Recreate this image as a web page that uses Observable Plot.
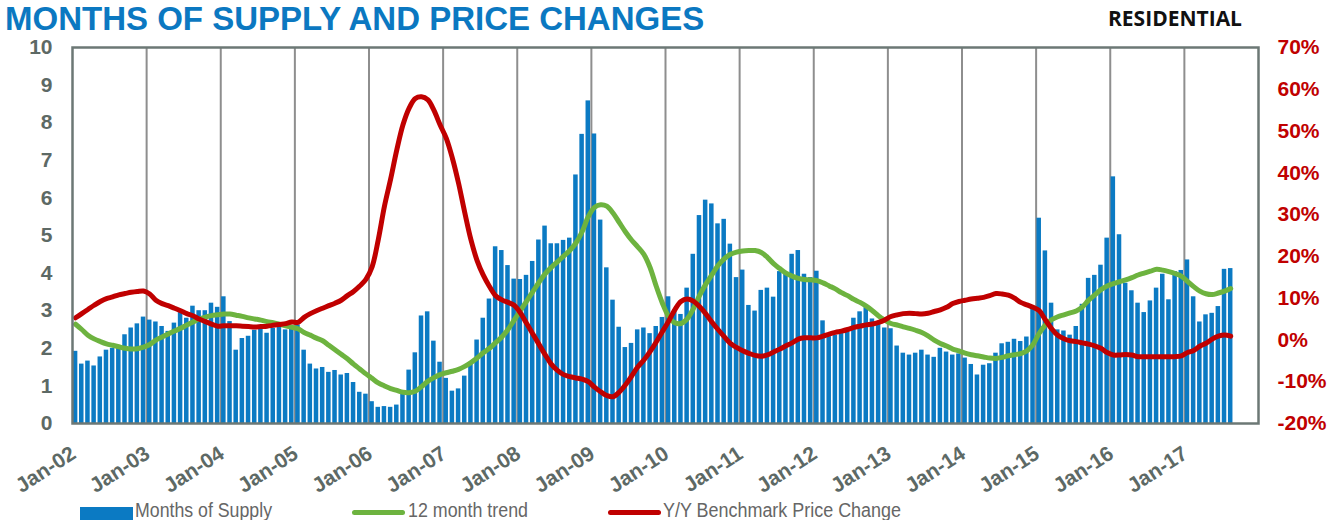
<!DOCTYPE html>
<html><head><meta charset="utf-8">
<script src="https://cdn.jsdelivr.net/npm/d3@7"></script>
<script src="https://cdn.jsdelivr.net/npm/@observablehq/plot@0.6"></script>
<style>
body{margin:0;background:#fff;width:1340px;height:520px;overflow:hidden;position:relative;font-family:"Liberation Sans",Arial,sans-serif}
#title{position:absolute;left:5px;top:0px;font-size:33px;line-height:normal;font-weight:bold;color:#0b78c1;white-space:nowrap}
#sub{position:absolute;left:1108px;top:6px;font-family:"Open Sans",sans-serif;font-weight:700;font-size:21px;line-height:24px;color:#111;white-space:nowrap}
#chart{position:absolute;left:0;top:0}
.lg{position:absolute;top:500px;font-size:20px;line-height:20px;color:#666;white-space:nowrap;transform-origin:0 50%}
.sw{position:absolute}
</style></head>
<body>
<div id="chart"></div>
<div id="title">MONTHS OF SUPPLY AND PRICE CHANGES</div>
<div id="sub">RESIDENTIAL</div>
<div id="legend"></div>
<script>
// ---- data ----
const monthNames = ["Jan","Feb","Mar","Apr","May","Jun","Jul","Aug","Sep","Oct","Nov","Dec"];
const years = ["02","03","04","05","06","07","08","09","10","11","12","13","14","15","16","17"];
const yearTicks = years.map(y => "Jan-" + y);
const leftTicks = [0,1,2,3,4,5,6,7,8,9,10];
const rightTicks = [-20,-10,0,10,20,30,40,50,60,70];
const legendLabels = ["Months of Supply", "12 month trend", "Y/Y Benchmark Price Change"];

const supply = [
1.92,1.58,1.66,1.53,1.77,1.95,2.0,2.05,2.36,2.54,2.65,2.83,
2.75,2.7,2.58,2.45,2.67,2.95,2.8,3.12,3.0,3.0,3.2,3.09,
3.37,2.71,1.95,2.26,2.32,2.48,2.5,2.4,2.53,2.59,2.49,2.57,
2.62,1.95,1.58,1.45,1.49,1.36,1.41,1.29,1.33,1.09,0.83,0.78,
0.58,0.43,0.45,0.43,0.49,0.78,1.42,1.88,2.86,2.97,2.19,1.63,
1.2,0.86,0.92,1.26,1.6,2.22,2.8,3.31,4.7,4.6,4.2,3.84,
3.83,3.94,4.31,4.88,5.25,4.78,4.78,4.87,4.93,6.61,7.69,8.58,
7.7,5.41,4.14,3.28,2.56,2.02,2.13,2.49,2.54,2.39,2.58,2.82,
3.37,3.02,2.9,3.6,4.5,5.53,5.94,5.84,5.31,5.43,4.77,3.88,
4.08,3.14,2.99,3.54,3.6,3.36,4.04,3.99,4.5,4.6,3.97,3.88,
4.05,2.73,2.31,2.35,2.42,2.44,2.8,2.97,3.08,2.78,2.66,2.54,
2.52,2.06,1.87,1.82,1.87,1.95,1.82,1.76,2.0,1.9,1.82,1.85,
1.74,1.57,1.29,1.55,1.59,1.87,2.12,2.16,2.24,2.18,2.3,3.08,
5.46,4.59,3.2,2.49,2.46,2.35,2.58,3.17,3.86,3.94,4.21,4.93,
6.56,5.02,3.73,3.53,3.2,2.95,3.26,3.6,3.97,3.29,4.04,4.07,
4.35,3.37,2.7,2.89,2.93,3.11,4.1,4.12];

const trend = [
2.64,2.5,2.35,2.25,2.18,2.12,2.08,2.04,2.0,1.98,1.99,2.03,
2.1,2.22,2.3,2.38,2.46,2.53,2.62,2.7,2.78,2.83,2.87,2.89,
2.91,2.91,2.88,2.85,2.81,2.78,2.75,2.71,2.68,2.64,2.6,2.56,
2.52,2.42,2.35,2.27,2.2,2.08,1.96,1.84,1.72,1.58,1.45,1.32,
1.2,1.08,1.0,0.93,0.88,0.83,0.82,0.86,0.98,1.12,1.22,1.3,
1.35,1.39,1.44,1.52,1.62,1.74,1.88,2.0,2.15,2.3,2.5,2.75,
3.0,3.25,3.5,3.75,3.98,4.15,4.3,4.45,4.6,4.8,5.1,5.5,
5.75,5.82,5.78,5.6,5.35,5.1,4.88,4.7,4.5,4.15,3.65,3.2,
2.85,2.68,2.66,2.78,3.05,3.4,3.7,3.95,4.2,4.38,4.5,4.56,
4.59,4.6,4.6,4.55,4.42,4.25,4.12,4.0,3.92,3.86,3.83,3.82,
3.8,3.74,3.66,3.58,3.48,3.4,3.3,3.22,3.12,3.0,2.86,2.75,
2.66,2.62,2.57,2.53,2.48,2.42,2.33,2.22,2.13,2.06,1.98,1.93,
1.87,1.83,1.8,1.77,1.74,1.73,1.76,1.8,1.83,1.86,1.93,2.1,
2.4,2.62,2.76,2.84,2.89,2.94,2.99,3.1,3.28,3.42,3.56,3.66,
3.72,3.77,3.82,3.88,3.95,4.0,4.05,4.1,4.08,4.04,3.99,3.92,
3.78,3.64,3.52,3.45,3.43,3.47,3.52,3.59];

const priceChange = [
5.3,6.3,7.3,8.3,9.2,9.9,10.3,10.8,11.1,11.4,11.6,11.7,
11.0,9.5,8.7,8.2,7.6,7.0,6.3,5.8,5.0,4.4,3.8,3.3,
3.4,3.4,3.4,3.3,3.2,3.1,3.2,3.3,3.5,3.7,3.9,4.3,
4.2,5.4,6.3,7.0,7.6,8.2,8.8,9.5,10.6,11.6,12.9,14.5,
17.5,24.0,32.0,38.5,45.5,51.5,55.5,57.8,58.2,57.5,55.0,51.5,
48.3,43.5,37.5,30.5,24.0,19.0,15.5,12.8,10.6,9.6,9.0,8.3,
6.5,4.0,1.5,-1.0,-3.5,-5.8,-7.3,-8.3,-8.8,-9.1,-9.4,-10.0,
-11.3,-12.4,-13.3,-13.6,-12.5,-10.8,-8.7,-6.5,-4.8,-2.8,-0.5,2.0,
4.5,7.2,9.2,9.8,9.3,8.0,6.3,4.3,2.5,0.8,-0.8,-1.8,
-2.6,-3.2,-3.7,-3.9,-3.6,-2.9,-2.2,-1.4,-0.7,0.2,0.5,0.5,
0.5,0.9,1.4,1.8,2.1,2.5,3.0,3.3,3.6,3.8,4.2,4.8,
5.6,6.0,6.3,6.4,6.3,6.2,6.4,6.8,7.2,7.8,8.7,9.2,
9.5,9.8,10.0,10.2,10.6,11.1,11.0,10.7,10.0,9.0,8.4,7.8,
7.0,4.8,2.7,1.1,0.3,-0.2,-0.4,-0.7,-1.0,-1.4,-2.0,-3.0,
-3.6,-3.6,-3.5,-3.6,-4.0,-4.0,-4.0,-4.0,-4.0,-4.0,-4.0,-3.8,
-3.0,-2.5,-1.5,-0.8,0.2,0.9,1.2,0.9];

// ---- build ----
const months = [];
for (const y of years) for (const m of monthNames) months.push(m + "-" + y);
const data = supply.map((v, i) => ({month: months[i], supply: v, trend: trend[i], price: priceChange[i]}));
const toLeft = p => (p + 20) / 9;   // right axis (-20%..70%) mapped onto left axis (0..10)

const W = 1340, H = 500, mL = 72, mR = 82, mT = 47, mB = 77;
const step = (W - mL - mR) / months.length;
const gray = "#5d6965";
const blue = "#0b7ac3", green = "#6db33f", red = "#c00000";

const chart = Plot.plot({
  width: W, height: H,
  marginLeft: mL, marginRight: mR, marginTop: mT, marginBottom: mB,
  style: {fontFamily: "'Liberation Sans', Arial, sans-serif", background: "transparent", overflow: "visible"},
  x: {type: "band", domain: months, paddingInner: 0.27, paddingOuter: 0.135, axis: null},
  y: {domain: [0, 10], axis: null},
  marks: [
    Plot.ruleX(yearTicks.slice(1), {stroke: "#8e8e8e", strokeWidth: 2, dx: -step / 2}),
    Plot.barY(data, {x: "month", y: "supply", fill: blue}),
    Plot.line(data, {x: "month", y: "trend", stroke: green, strokeWidth: 5, curve: "catmull-rom"}),
    Plot.line(data, {x: "month", y: d => toLeft(d.price), stroke: red, strokeWidth: 5, curve: "catmull-rom"}),
    Plot.frame({stroke: "#6c7875", strokeWidth: 2.5}),
    Plot.axisY(leftTicks, {anchor: "left", label: null, tickSize: 0, tickPadding: 20, fontSize: 21, fontWeight: "bold", color: gray, tickFormat: d => String(d)}),
    Plot.axisY(rightTicks.map(toLeft), {anchor: "right", label: null, tickSize: 0, tickPadding: 19, fontSize: 21, fontWeight: "bold", color: red, tickFormat: v => Math.round(v * 9 - 20) + "%"}),
    Plot.axisX(yearTicks, {anchor: "bottom", label: null, tickSize: 0, tickPadding: 28, tickRotate: -33, dx: -2, fontSize: 21, fontWeight: "bold", color: gray})
  ]
});
document.getElementById("chart").appendChild(chart);

// legend
const legend = document.getElementById("legend");
const items = [
  {color: blue, type: "rect", x: 80, textX: 135, textW: 137},
  {color: green, type: "line", x: 352, textX: 408, textW: 120},
  {color: red, type: "line", x: 608, textX: 663, textW: 238}
];
items.forEach((it, k) => {
  const sw = document.createElement("div");
  sw.className = "sw";
  sw.style.left = it.x + "px";
  sw.style.width = "53px";
  sw.style.background = it.color;
  if (it.type === "rect") { sw.style.top = "507px"; sw.style.height = "13px"; }
  else { sw.style.top = "510px"; sw.style.height = "5px"; sw.style.borderRadius = "3px"; }
  legend.appendChild(sw);
  const t = document.createElement("div");
  t.className = "lg";
  t.style.left = it.textX + "px";
  t.textContent = legendLabels[k];
  legend.appendChild(t);
  const w = t.getBoundingClientRect().width;
  if (w > 0) t.style.transform = `scaleX(${it.textW / w})`;
});
</script>
</body></html>
